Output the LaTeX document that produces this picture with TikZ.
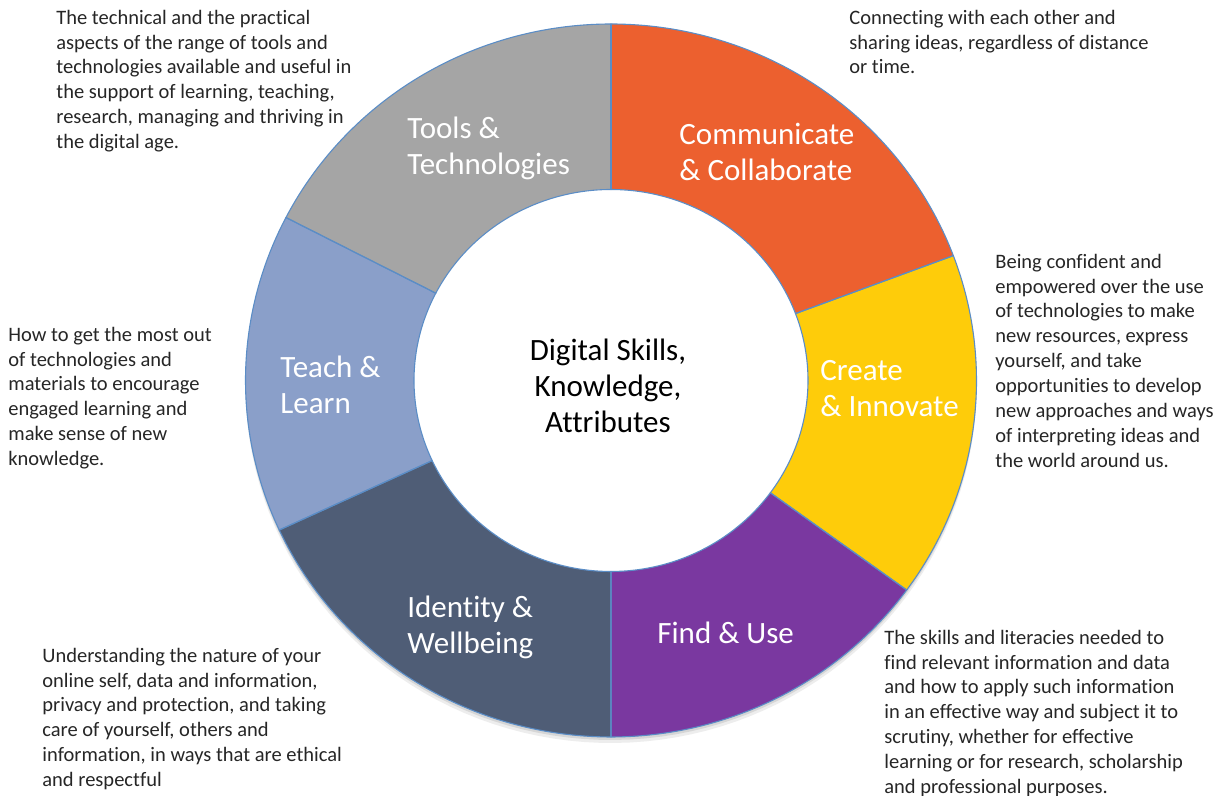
\documentclass[tikz,border=0pt]{standalone}
\usepackage{fontspec}
\setmainfont[Ligatures=NoCommon]{Carlito}
\definecolor{cComm}{HTML}{EC602F}
\definecolor{cCreate}{HTML}{FECC0A}
\definecolor{cFind}{HTML}{7A38A0}
\definecolor{cIdent}{HTML}{4F5D76}
\definecolor{cTeach}{HTML}{8A9FC9}
\definecolor{cTools}{HTML}{A5A5A5}
\definecolor{cBord}{HTML}{5B8DC6}
\definecolor{cText}{HTML}{262626}
\begin{document}
\begin{tikzpicture}[x=0.5pt,y=0.5pt,
  seg/.style={draw=cBord, line width=0.55pt, line join=round},
  lab/.style={text=white, font=\fontsize{15.5}{18}\selectfont, align=left, anchor=west, inner sep=0pt},
  desc/.style={text=cText, font=\fontsize{10.25}{12.45}\selectfont, align=left, anchor=north west, inner sep=0pt}]
\useasboundingbox (0,0) rectangle (1222,796);
\fill[white] (0,0) rectangle (1222,796);
\def\cX{611}\def\cY{415.5}\def\oRx{365.5}\def\oRy{356.5}\def\iRx{197}\def\iRy{191}
% soft shadow below the ring
\fill[black!7] plot[domain=0:360,samples=150] ({\cX+\oRx*cos(\x)},{\cY-6+\oRy*sin(\x)}) -- cycle;
\fill[black!16] plot[domain=0:360,samples=150] ({\cX+\oRx*cos(\x)},{\cY-3+\oRy*sin(\x)}) -- cycle;
% segments
\fill[cComm] plot[domain=90:20.5,samples=80] ({\cX+\oRx*cos(\x)},{\cY+\oRy*sin(\x)}) -- plot[domain=20.5:90,samples=80] ({\cX+\iRx*cos(\x)},{\cY+\iRy*sin(\x)}) -- cycle;
\fill[cCreate] plot[domain=20.5:-36,samples=80] ({\cX+\oRx*cos(\x)},{\cY+\oRy*sin(\x)}) -- plot[domain=-36:20.5,samples=80] ({\cX+\iRx*cos(\x)},{\cY+\iRy*sin(\x)}) -- cycle;
\fill[cFind] plot[domain=-36:-90,samples=80] ({\cX+\oRx*cos(\x)},{\cY+\oRy*sin(\x)}) -- plot[domain=-90:-36,samples=80] ({\cX+\iRx*cos(\x)},{\cY+\iRy*sin(\x)}) -- cycle;
\fill[cIdent] plot[domain=-90:-155.2,samples=80] ({\cX+\oRx*cos(\x)},{\cY+\oRy*sin(\x)}) -- plot[domain=-155.2:-90,samples=80] ({\cX+\iRx*cos(\x)},{\cY+\iRy*sin(\x)}) -- cycle;
\fill[cTeach] plot[domain=-155.2:-207.2,samples=80] ({\cX+\oRx*cos(\x)},{\cY+\oRy*sin(\x)}) -- plot[domain=-207.2:-155.2,samples=80] ({\cX+\iRx*cos(\x)},{\cY+\iRy*sin(\x)}) -- cycle;
\fill[cTools] plot[domain=-207.2:-270,samples=80] ({\cX+\oRx*cos(\x)},{\cY+\oRy*sin(\x)}) -- plot[domain=-270:-207.2,samples=80] ({\cX+\iRx*cos(\x)},{\cY+\iRy*sin(\x)}) -- cycle;
% white hole
\fill[white] plot[domain=0:360,samples=150] ({\cX+\iRx*cos(\x)},{\cY+\iRy*sin(\x)}) -- cycle;
% outlines
\foreach \a/\b in {90/20.5,20.5/-36,-36/-90,-90/-155.2,-155.2/-207.2,-207.2/-270}{
  \draw[seg] plot[domain=\a:\b,samples=80] ({\cX+\oRx*cos(\x)},{\cY+\oRy*sin(\x)}) -- plot[domain=\b:\a,samples=80] ({\cX+\iRx*cos(\x)},{\cY+\iRy*sin(\x)}) -- cycle;
}
\draw[cBord, line width=1.2pt] ({\cX},{\cY+\iRy}) -- ({\cX},{\cY+\oRy});
% segment labels
\node[lab] (tools) at (407,647.5) {Tools \&\\Technologies};
\node[lab] (comm) at (679,644) {Communicate\\\& Collaborate};
\node[lab] (create) at (820,407.5) {Create\\\& Innovate};
\node[lab] (teach) at (280,411.5) {Teach \&\\Learn};
\node[lab] (ident) at (407,169) {Identity \&\\Wellbeing};
\node[lab] (find) at (657,163) {Find \& Use};
\node[text=black, font=\fontsize{15.5}{18}\selectfont, align=center, inner sep=0pt] (centre) at (608,410) {Digital Skills,\\Knowledge,\\Attributes};
% descriptions
\node[desc] (dtools) at (56,786.5) {The technical and the practical\\aspects of the range of tools and\\technologies available and useful in\\the support of learning, teaching,\\research, managing and thriving in\\the digital age.};
\node[desc] (dcomm) at (849,786.5) {Connecting with each other and\\sharing ideas, regardless of distance\\or time.};
\node[desc] (dcreate) at (995,542.5) {Being confident and\\empowered over the use\\of technologies to make\\new resources, express\\yourself, and take\\opportunities to develop\\new approaches and ways\\of interpreting ideas and\\the world around us.};
\node[desc] (dteach) at (8,469.5) {How to get the most out\\of technologies and\\materials to encourage\\engaged learning and\\make sense of new\\knowledge.};
\node[desc] (dident) at (42,148.5) {Understanding the nature of your\\online self, data and information,\\privacy and protection, and taking\\care of yourself, others and\\information, in ways that are ethical\\and respectful};
\node[desc] (dfind) at (884,166.5) {The skills and literacies needed to\\find relevant information and data\\and how to apply such information\\in an effective way and subject it to\\scrutiny, whether for effective\\learning or for research, scholarship\\and professional purposes.};
\end{tikzpicture}
\end{document}
